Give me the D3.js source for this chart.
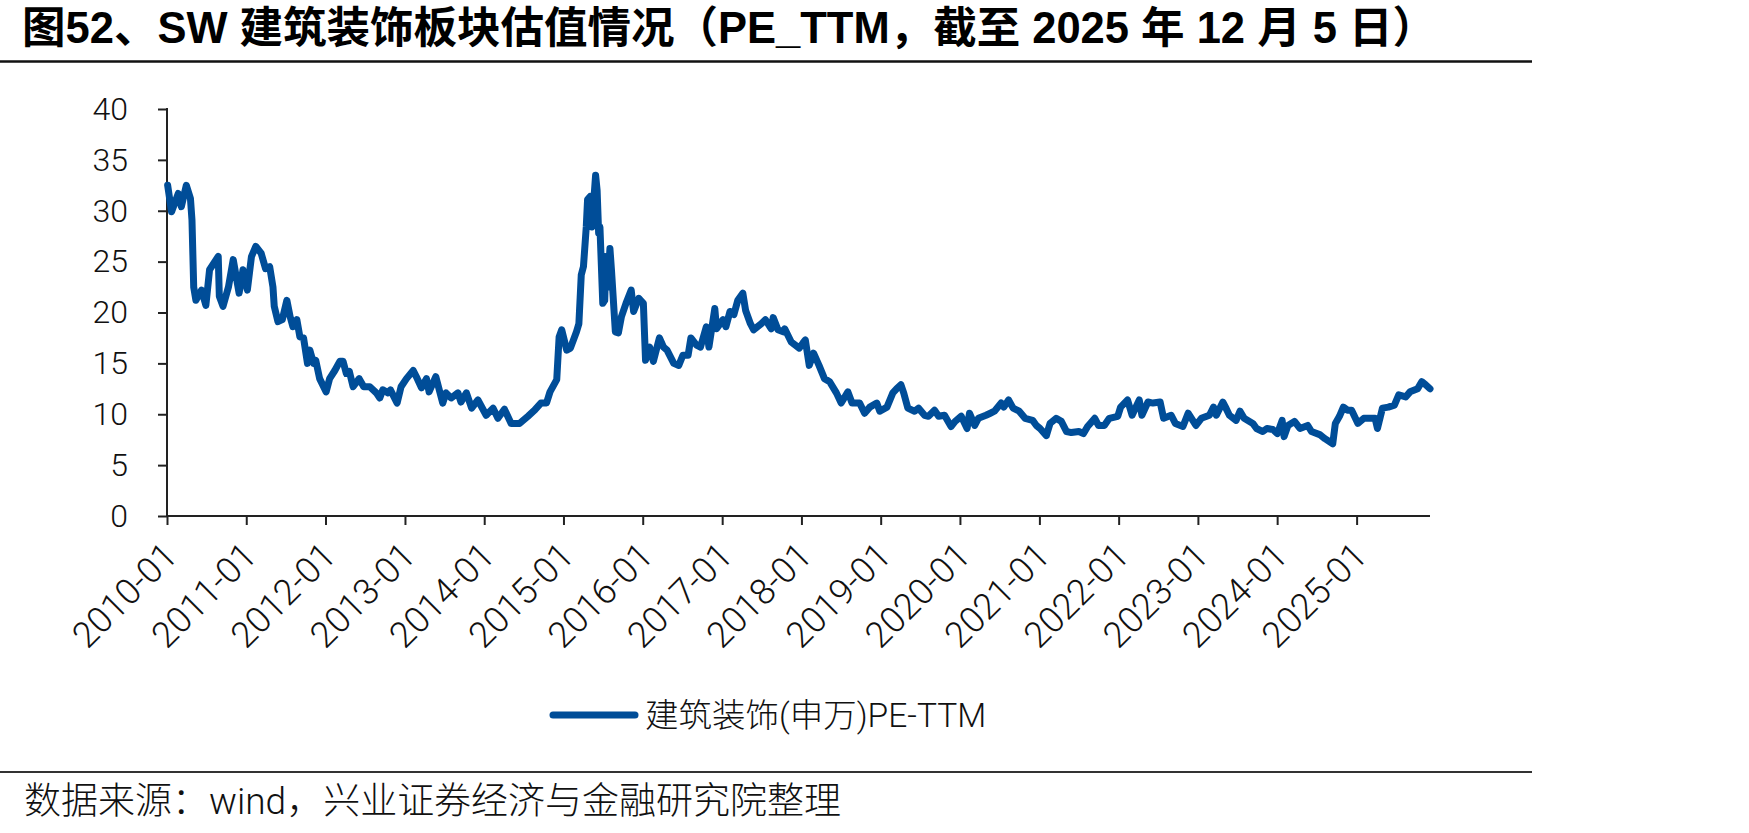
<!DOCTYPE html>
<html>
<head>
<meta charset="utf-8">
<style>
  body { margin: 0; background: #fff; }
  svg { display: block; }
  .lbl { font-family: Roboto, "Liberation Sans", "Noto Sans CJK SC", sans-serif; font-weight: 300; fill: #111; }
  .cjk { font-family: Roboto, "Noto Sans CJK SC", sans-serif; font-weight: 300; fill: #111; }
</style>
</head>
<body>
<script src="https://d3js.org/d3.v7.min.js"></script>
<svg id="chart" width="1749" height="833"></svg>
<script>
// PE_TTM readings
var dates = [
  "2010-01-04","2010-01-22","2010-02-22","2010-03-08","2010-03-31","2010-04-19","2010-04-26","2010-05-04","2010-05-14","2010-06-09",
  "2010-06-29","2010-07-16","2010-08-25","2010-08-30","2010-09-16","2010-10-11","2010-11-02","2010-11-29","2010-12-17","2011-01-06",
  "2011-01-25","2011-02-14","2011-03-11","2011-03-31","2011-04-19","2011-05-04","2011-05-10","2011-05-27","2011-06-16","2011-07-07",
  "2011-07-22","2011-08-04","2011-08-22","2011-09-05","2011-09-22","2011-10-10","2011-10-21","2011-11-07","2011-11-17","2011-12-05",
  "2012-01-04","2012-01-20","2012-02-13","2012-03-07","2012-03-22","2012-04-06","2012-04-20","2012-05-07","2012-06-04","2012-06-25",
  "2012-07-23","2012-08-22","2012-09-07","2012-09-21","2012-10-15","2012-10-26","2012-11-26","2012-12-14","2013-01-08","2013-02-08",
  "2013-02-22","2013-03-18","2013-04-10","2013-04-22","2013-05-23","2013-06-24","2013-07-09","2013-08-02","2013-09-02","2013-09-16",
  "2013-10-11","2013-11-04","2013-12-03","2014-01-10","2014-02-11","2014-03-05","2014-04-04","2014-05-05","2014-06-13","2014-07-21",
  "2014-08-21","2014-09-19","2014-10-15","2014-10-31","2014-12-01","2014-12-12","2014-12-24","2015-01-16","2015-02-02","2015-03-02",
  "2015-03-13","2015-03-24","2015-04-03","2015-04-16","2015-04-22","2015-05-04","2015-05-12","2015-05-29","2015-06-05","2015-06-12",
  "2015-06-18","2015-07-01","2015-07-10","2015-07-16","2015-07-24","2015-08-03","2015-08-10","2015-08-28","2015-09-11","2015-09-25",
  "2015-10-16","2015-11-09","2015-11-20","2015-12-14","2016-01-04","2016-01-14","2016-02-02","2016-02-19","2016-03-18","2016-04-06",
  "2016-04-22","2016-05-23","2016-06-15","2016-07-04","2016-07-28","2016-08-10","2016-09-05","2016-09-23","2016-10-20","2016-11-01",
  "2016-11-28","2016-12-06","2017-01-05","2017-01-18","2017-02-06","2017-02-24","2017-03-14","2017-04-06","2017-04-19","2017-05-11",
  "2017-05-26","2017-06-30","2017-07-19","2017-08-15","2017-08-24","2017-09-15","2017-10-09","2017-10-16","2017-11-15","2017-12-22",
  "2018-01-08","2018-01-19","2018-02-06","2018-02-26","2018-03-23","2018-04-17","2018-05-11","2018-06-11","2018-07-03","2018-08-03",
  "2018-08-22","2018-09-26","2018-10-19","2018-11-12","2018-12-14","2018-12-28","2019-01-30","2019-02-26","2019-03-15","2019-04-04",
  "2019-04-17","2019-05-06","2019-06-06","2019-06-24","2019-07-22","2019-08-09","2019-09-06","2019-09-25","2019-10-22","2019-11-21",
  "2019-12-10","2020-01-07","2020-02-03","2020-02-14","2020-03-09","2020-03-26","2020-04-30","2020-05-20","2020-06-08","2020-07-09",
  "2020-07-21","2020-08-12","2020-09-02","2020-09-30","2020-10-27","2020-12-01","2020-12-18","2021-01-04","2021-02-02","2021-02-19",
  "2021-03-19","2021-04-12","2021-05-06","2021-05-28","2021-07-02","2021-07-23","2021-08-11","2021-09-13","2021-09-30","2021-10-27",
  "2021-11-19","2021-12-28","2022-01-10","2022-02-11","2022-03-04","2022-04-06","2022-04-18","2022-05-16","2022-06-08","2022-07-11",
  "2022-07-27","2022-08-31","2022-09-19","2022-10-24","2022-11-17","2022-12-23","2023-01-17","2023-02-23","2023-03-14","2023-03-27",
  "2023-04-26","2023-05-08","2023-05-26","2023-06-26","2023-07-14","2023-08-02","2023-09-11","2023-09-28","2023-10-27","2023-11-15",
  "2023-12-12","2024-01-02","2024-01-24","2024-02-02","2024-02-20","2024-03-21","2024-04-15","2024-05-21","2024-06-07","2024-07-15",
  "2024-08-08","2024-09-13","2024-09-25","2024-10-14","2024-11-01","2024-11-20","2024-12-09","2025-01-07","2025-02-03","2025-03-10",
  "2025-03-27","2025-04-07","2025-04-30","2025-05-27","2025-06-24","2025-07-14","2025-08-15","2025-09-04","2025-10-09","2025-10-28",
  "2025-11-10","2025-12-05"
];
var peValues = [
  32.5,29.9,31.7,30.4,32.5,31.2,29.1,22.5,21.2,22.2,
  20.7,24.2,25.5,21.6,20.6,22.5,25.2,21.9,24.2,22.2,
  25.5,26.5,25.8,24.3,24.5,22.5,20.6,19.1,19.3,21.2,
  19.6,18.6,19.3,17.6,17.5,15.0,16.3,15.0,15.3,13.5,
  12.2,13.5,14.3,15.2,15.2,14.0,14.2,12.7,13.5,12.7,
  12.7,12.1,11.6,12.4,12.1,12.4,11.1,12.7,13.5,14.3,
  13.7,12.6,13.5,12.2,13.7,11.1,12.1,11.6,12.1,11.2,
  12.1,10.6,11.4,9.9,10.6,9.6,10.5,9.1,9.1,9.8,
  10.4,11.1,11.1,12.2,13.4,17.6,18.3,16.3,16.5,18.1,
  18.9,23.7,24.5,28.4,31.1,31.4,28.4,33.5,32.0,27.8,
  28.4,20.9,21.2,25.5,22.5,26.3,24.2,18.1,18.0,19.6,
  20.9,22.2,20.1,21.4,20.9,15.3,16.6,15.2,17.5,16.6,
  16.3,15.0,14.8,15.8,15.8,17.5,16.8,16.6,18.6,16.6,
  20.4,18.4,19.3,18.6,20.1,19.8,21.2,21.9,20.2,18.9,
  18.3,18.9,19.3,18.4,19.5,18.3,18.1,18.4,17.1,16.5,
  17.0,17.3,14.8,16.0,14.8,13.5,13.2,12.1,11.1,12.2,
  11.1,11.1,10.1,10.7,11.1,10.3,10.7,12.1,12.5,12.9,
  12.1,10.6,10.3,10.6,9.9,9.8,10.4,9.8,9.9,8.8,
  9.3,9.8,8.6,10.1,8.9,9.6,9.9,10.1,10.3,11.1,
  10.7,11.4,10.6,10.3,9.6,9.4,8.9,8.6,7.9,9.1,
  9.6,9.3,8.3,8.2,8.3,8.1,8.8,9.6,8.9,8.9,
  9.6,9.8,10.7,11.4,9.9,11.4,9.9,11.2,11.1,11.2,
  9.6,9.9,9.1,8.8,10.1,8.9,9.6,9.9,10.7,9.9,
  11.2,10.7,9.9,9.4,10.3,9.6,9.1,8.6,8.3,8.6,
  8.5,8.1,9.4,7.8,8.9,9.3,8.6,8.9,8.3,8.0,
  7.6,7.1,9.1,9.8,10.7,10.4,10.4,9.1,9.6,9.6,
  9.6,8.6,10.6,10.7,10.9,11.9,11.7,12.2,12.5,13.2,
  13.0,12.5
];
var yTicks = [0, 5, 10, 15, 20, 25, 30, 35, 40];
var xTickLabels = ["2010-01","2011-01","2012-01","2013-01","2014-01","2015-01","2016-01","2017-01",
                   "2018-01","2019-01","2020-01","2021-01","2022-01","2023-01","2024-01","2025-01"];
var seriesName = "建筑装饰(申万)PE-TTM";
var titleText = "图52、SW 建筑装饰板块估值情况（PE_TTM，截至 2025 年 12 月 5 日）";
var sourceText = "数据来源：wind，兴业证券经济与金融研究院整理";

var parse = d3.timeParse("%Y-%m-%d");
var parseTick = d3.timeParse("%Y-%m");
var data = dates.map(function(d, i) { return { date: parse(d), value: peValues[i] }; });

var svg = d3.select("#chart");
var lineColor = "#004d98";

var x = d3.scaleTime()
    .domain([parseTick("2010-01"), parse("2025-12-05")])
    .range([167, 1430]);
var y = d3.scaleLinear().domain([0, 40]).range([516, 109]);

// title + rules
svg.append("text")
    .attr("x", 22).attr("y", 43)
    .style("font-family", "'Liberation Sans', Arial, 'Noto Sans CJK SC', sans-serif")
    .style("font-weight", "bold")
    .style("font-size", "43.5px")
    .style("fill", "#000")
    .text(titleText);
svg.append("line").attr("x1", 0).attr("x2", 1532).attr("y1", 61.5).attr("y2", 61.5)
    .style("stroke", "#111").style("stroke-width", 2.5);
svg.append("line").attr("x1", 0).attr("x2", 1532).attr("y1", 772).attr("y2", 772)
    .style("stroke", "#333").style("stroke-width", 2);

// axes
var yAxis = d3.axisLeft(y).tickValues(yTicks).tickSize(9).tickSizeOuter(0).tickPadding(30);
var gy = svg.append("g").attr("transform", "translate(167,0)").call(yAxis);
gy.selectAll("text").attr("class", "lbl").style("font-size", "32px");

var xAxis = d3.axisBottom(x)
    .tickValues(xTickLabels.map(parseTick))
    .tickFormat(d3.timeFormat("%Y-%m"))
    .tickSize(9).tickSizeOuter(0);
var gx = svg.append("g").attr("transform", "translate(0,516)").call(xAxis);
gx.selectAll("text")
    .attr("class", "lbl")
    .style("font-size", "36px")
    .style("text-anchor", "end")
    .attr("dy", "0.35em")
    .attr("transform", "translate(3,33) rotate(-45)")
    .attr("y", 0).attr("x", 0);

svg.selectAll(".domain, .tick line").style("stroke", "#222").style("stroke-width", 2);
svg.selectAll(".domain").attr("d", null);
svg.append("line").attr("x1", 167).attr("x2", 167).attr("y1", 108).attr("y2", 516)
    .style("stroke", "#222").style("stroke-width", 2);
svg.append("line").attr("x1", 167).attr("x2", 1430).attr("y1", 516).attr("y2", 516)
    .style("stroke", "#222").style("stroke-width", 2);

// series
var line = d3.line()
    .x(function(d) { return x(d.date); })
    .y(function(d) { return y(d.value); });
svg.append("path")
    .datum(data)
    .attr("d", line)
    .style("fill", "none")
    .style("stroke", lineColor)
    .style("stroke-width", 7)
    .style("stroke-linejoin", "round")
    .style("stroke-linecap", "round");

// legend
svg.append("line").attr("x1", 553).attr("x2", 635).attr("y1", 715).attr("y2", 715)
    .style("stroke", lineColor).style("stroke-width", 7).style("stroke-linecap", "round");
svg.append("text").attr("class", "cjk")
    .attr("x", 645).attr("y", 715).attr("dy", "0.35em")
    .style("font-size", "33.5px")
    .text(seriesName);

// source
svg.append("text").attr("class", "cjk")
    .attr("x", 24).attr("y", 814)
    .style("font-size", "37px")
    .text(sourceText);
</script>
</body>
</html>
